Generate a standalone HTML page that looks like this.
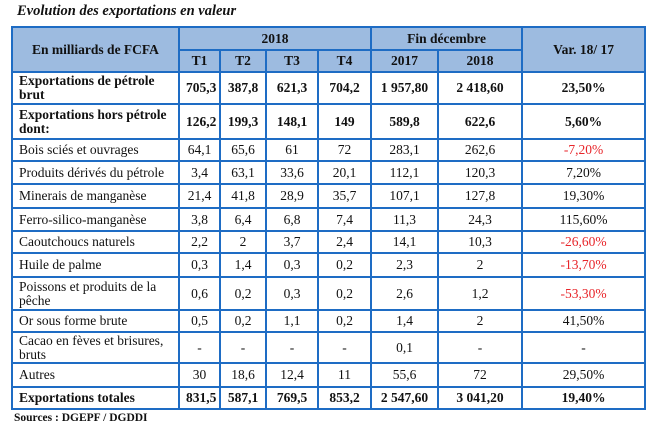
<!DOCTYPE html>
<html><head><meta charset="utf-8"><style>
body{margin:0;background:#fff;width:654px;height:429px;overflow:hidden;font-family:"Liberation Serif",serif;color:#111}
.t{position:absolute;left:17px;top:3px;font-size:14.5px;font-weight:bold;font-style:italic}
table{position:absolute;left:11px;top:26px;border-collapse:collapse;table-layout:fixed;width:633px;font-size:13.5px}
td{border:2px solid #1e6cc4;padding:0 6px;text-align:center;line-height:14px;overflow:hidden;white-space:nowrap}
td.l{text-align:left;white-space:normal;padding-right:10px}
.h td{background:#9dbbe0;font-weight:bold}
.b td{font-weight:bold}
.r{color:#e8262b}
.s{position:absolute;left:14px;top:412px;font-size:11.5px;font-weight:bold}
</style></head><body>
<div class="t">Evolution des exportations en valeur</div>
<table>
<colgroup><col style="width:167px"><col style="width:41px"><col style="width:46px"><col style="width:52px"><col style="width:53px"><col style="width:67px"><col style="width:84px"><col style="width:123px"></colgroup>
<tr class="h" style="height:23px"><td rowspan="2">En milliards de FCFA</td><td colspan="4">2018</td><td colspan="2">Fin décembre</td><td rowspan="2">Var. 18/ 17</td></tr>
<tr class="h" style="height:22px"><td>T1</td><td>T2</td><td>T3</td><td>T4</td><td>2017</td><td>2018</td></tr>
<tr class="b" style="height:32px"><td class="l">Exportations de pétrole brut</td><td>705,3</td><td>387,8</td><td>621,3</td><td>704,2</td><td>1 957,80</td><td>2 418,60</td><td>23,50%</td></tr>
<tr class="b" style="height:35px"><td class="l">Exportations hors pétrole dont:</td><td>126,2</td><td>199,3</td><td>148,1</td><td>149</td><td>589,8</td><td>622,6</td><td>5,60%</td></tr>
<tr style="height:22px"><td class="l">Bois sciés et ouvrages</td><td>64,1</td><td>65,6</td><td>61</td><td>72</td><td>283,1</td><td>262,6</td><td class="r">-7,20%</td></tr>
<tr style="height:23px"><td class="l">Produits dérivés du pétrole</td><td>3,4</td><td>63,1</td><td>33,6</td><td>20,1</td><td>112,1</td><td>120,3</td><td>7,20%</td></tr>
<tr style="height:24px"><td class="l">Minerais de manganèse</td><td>21,4</td><td>41,8</td><td>28,9</td><td>35,7</td><td>107,1</td><td>127,8</td><td>19,30%</td></tr>
<tr style="height:23px"><td class="l">Ferro-silico-manganèse</td><td>3,8</td><td>6,4</td><td>6,8</td><td>7,4</td><td>11,3</td><td>24,3</td><td>115,60%</td></tr>
<tr style="height:22px"><td class="l">Caoutchoucs naturels</td><td>2,2</td><td>2</td><td>3,7</td><td>2,4</td><td>14,1</td><td>10,3</td><td class="r">-26,60%</td></tr>
<tr style="height:24px"><td class="l">Huile de palme</td><td>0,3</td><td>1,4</td><td>0,3</td><td>0,2</td><td>2,3</td><td>2</td><td class="r">-13,70%</td></tr>
<tr style="height:33px"><td class="l">Poissons et produits de la pêche</td><td>0,6</td><td>0,2</td><td>0,3</td><td>0,2</td><td>2,6</td><td>1,2</td><td class="r">-53,30%</td></tr>
<tr style="height:22px"><td class="l">Or sous forme brute</td><td>0,5</td><td>0,2</td><td>1,1</td><td>0,2</td><td>1,4</td><td>2</td><td>41,50%</td></tr>
<tr style="height:31px"><td class="l">Cacao en fèves et brisures, bruts</td><td>-</td><td>-</td><td>-</td><td>-</td><td>0,1</td><td>-</td><td>-</td></tr>
<tr style="height:24px"><td class="l">Autres</td><td>30</td><td>18,6</td><td>12,4</td><td>11</td><td>55,6</td><td>72</td><td>29,50%</td></tr>
<tr class="b" style="height:22px"><td class="l">Exportations totales</td><td>831,5</td><td>587,1</td><td>769,5</td><td>853,2</td><td>2 547,60</td><td>3 041,20</td><td>19,40%</td></tr>
</table>
<div class="s">Sources : DGEPF / DGDDI</div>
</body></html>
